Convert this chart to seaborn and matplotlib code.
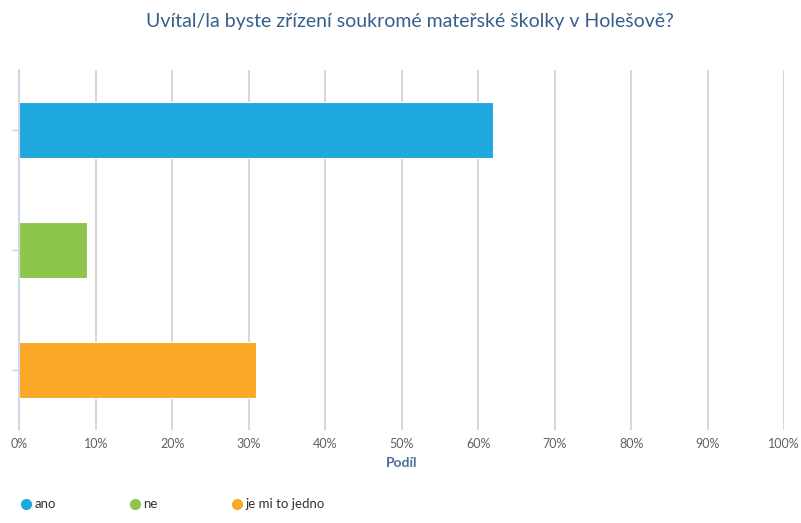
import matplotlib
matplotlib.use("Agg")
import matplotlib.pyplot as plt
import seaborn as sns
import pandas as pd
from matplotlib.lines import Line2D
from matplotlib.ticker import FuncFormatter, MultipleLocator

# Data
categories = ["ano", "ne", "je mi to jedno"]
shares = [61.9, 8.9, 30.9]
colors = ["#1fa8de", "#8bc54a", "#fba826"]

title = "Uvítal/la byste zřízení soukromé mateřské školky v Holešově?"
x_label = "Podíl"

sns.set_theme(style="white")
plt.rcParams["font.family"] = ["Lato", "DejaVu Sans"]

df = pd.DataFrame({"Odpověď": categories, "Podíl": shares})

fig = plt.figure(figsize=(8.01, 5.23), dpi=100)
ax = fig.add_axes([0.024, 0.178, 0.955, 0.688])

sns.barplot(
    data=df, x="Podíl", y="Odpověď", hue="Odpověď",
    palette=colors, orient="h", width=0.47, dodge=False,
    legend=False, ax=ax, saturation=1,
)
for p in ax.patches:
    p.set_edgecolor("white")
    p.set_linewidth(0.8)

ax.set_xlim(0, 100)
ax.xaxis.set_major_locator(MultipleLocator(10))
ax.xaxis.set_major_formatter(FuncFormatter(lambda v, _: f"{v:.0f}%"))
ax.grid(axis="x", color="#d4d4d4", linewidth=1.3)
ax.set_axisbelow(True)

for side in ["top", "right", "bottom"]:
    ax.spines[side].set_visible(False)
ax.spines["left"].set_color("#c5d3e3")
ax.spines["left"].set_linewidth(1.2)

ax.set_yticklabels([])
ax.set_ylabel("")
ax.tick_params(axis="y", left=True, length=5, color="#c5d3e3", width=1)
ax.tick_params(axis="x", bottom=False, labelsize=9, labelcolor="#606060", pad=0)

ax.set_xlabel(x_label, fontsize=10, fontweight="bold", color="#4d6d99", labelpad=5)
fig.suptitle(title, fontsize=14, color="#365f8c", x=0.512, y=0.975)

handles = [
    Line2D([0], [0], marker="o", linestyle="", markersize=7,
           markerfacecolor=c, markeredgecolor=c, label=lab)
    for c, lab in zip(colors, categories)
]
leg = fig.legend(
    handles=handles, loc="center left", bbox_to_anchor=(0.009, 0.036),
    ncol=3, frameon=False, fontsize=9.5, handletextpad=0.15,
    columnspacing=5.5, handlelength=1.0,
)
for t in leg.get_texts():
    t.set_color("#333333")

fig.savefig("out.png", dpi=100)
